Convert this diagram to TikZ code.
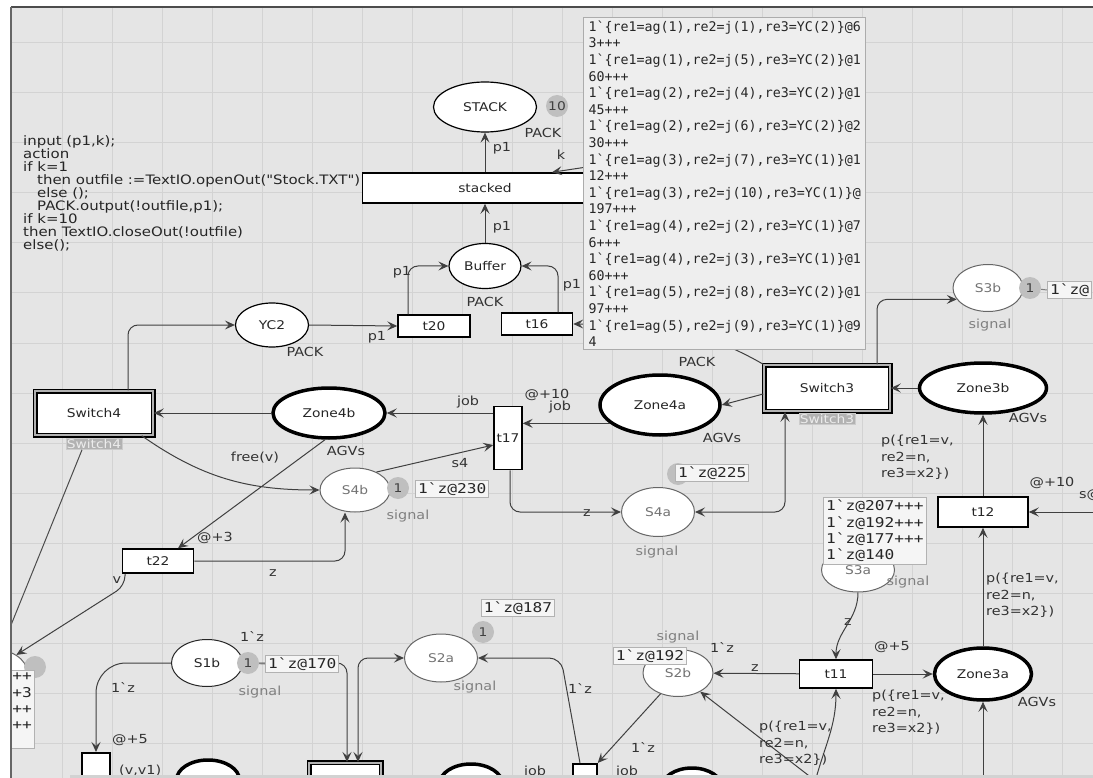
\documentclass[tikz,border=0pt]{standalone}
\usepackage{fontspec}
\setmainfont{DejaVu Sans}
\newfontfamily\cpnsans[FakeStretch=1.15]{DejaVu Sans}
\newfontfamily\cpnmono{DejaVu Sans Mono}
\newfontfamily\cpnmonow[FakeStretch=1.2]{DejaVu Sans Mono}
\usetikzlibrary{shapes.geometric,arrows.meta,positioning}
\definecolor{canvas}{RGB}{229,229,229}
\definecolor{gridline}{RGB}{211,211,211}
\newcommand\bq{\char"60\relax}
\newcommand\cpnname{\cpnsans\fontsize{12}{13}\selectfont}
\newcommand\cpnlab{\cpnsans\fontsize{12.5}{16.5}\selectfont}
\newcommand\cpncode{\cpnsans\fontsize{13}{13}\selectfont}
\newcommand\cpnmk{\cpnmonow\fontsize{13.5}{16.3}\selectfont}
\newcommand\cpntip{\cpnmono\fontsize{13.3}{16.6}\selectfont}
\newcommand\tk[4]{1\bq\{re1=ag(#1),re2=j(#2),re3=YC(#3)\}@#4}
\tikzset{
  place/.style={draw, ellipse, fill=white, line width=1.2pt, inner sep=0pt, font=\cpnname, text=black!85},
  zone/.style={place, line width=3.5pt},
  sig/.style={place, draw=black!60, line width=1pt, text=black!55, minimum width=71pt, minimum height=46pt},
  trans/.style={draw, rectangle, fill=white, line width=1.5pt, inner sep=1pt, font=\cpnname, text=black!85},
  subst/.style={trans, double=gray!60, double distance=2pt},
  tok/.style={circle, fill=gray!50, minimum size=22pt, inner sep=0pt, font=\cpnname, text=black!75},
  mkbox/.style={draw=gray!60, fill=gray!8, line width=1pt, inner sep=2.5pt, font=\cpnmk, text=black!85},
  tag/.style={fill=gray!60, draw=gray!40, inner sep=1pt, font=\cpnname, text=gray!15},
  lab/.style={font=\cpnlab, text=black!80, inner sep=1pt},
  siglab/.style={lab, text=black!50},
  arc/.style={draw=black!75, line width=1pt, rounded corners=10pt, -{Stealth[length=10pt,width=9pt,inset=4pt]}},
  arcs/.style={arc, {Stealth[length=10pt,width=9pt,inset=4pt]}-{Stealth[length=10pt,width=9pt,inset=4pt]}},
  link/.style={draw=black!70, line width=1pt}
}
\begin{document}
\begin{tikzpicture}[x=1pt, y=-1pt]
\clip (0,0) rectangle (1093,778);
\fill[white] (0,0) rectangle (1093,778);
\fill[canvas] (12,7) rectangle (1093,778);
\foreach \x in {62,112,...,1062} \draw[gridline, line width=1pt] (\x,7) -- (\x,778);
\foreach \y in {43,93,...,743} \draw[gridline, line width=1pt] (12,\y) -- (1093,\y);

\node[font=\cpncode, text=black!85, align=left, anchor=north west, inner sep=0pt] (code) at (23,135)
  {input (p1,k);\\action\\if k=1\\\hspace*{14pt}then outfile :=TextIO.openOut("Stock.TXT")\\\hspace*{14pt}else ();\\\hspace*{14pt}PACK.output(!outfile,p1);\\if k=10\\then TextIO.closeOut(!outfile)\\else();};

\node[place, minimum width=103pt, minimum height=50pt] (stack) at (485,107) {STACK};
\node[tok] (stacktok) at (557,106) {10};
\node[lab] at (543,133) {PACK};
\node[trans, minimum width=245pt, minimum height=30pt] (stacked) at (485,188) {stacked};
\node[place, minimum width=72pt, minimum height=45pt] (buffer) at (485,266) {Buffer};
\node[lab] at (485,302) {PACK};
\node[trans, minimum width=72pt, minimum height=22pt] (t20) at (434,326) {t20};
\node[trans, minimum width=71pt, minimum height=22pt] (t16) at (537,324) {t16};
\node[place, minimum width=73pt, minimum height=44pt] (yc2) at (272,325) {YC2};
\node[lab] at (305,352) {PACK};

\node[subst, minimum width=118pt, minimum height=44pt] (switch4) at (94,413) {Switch4};
\node[tag] (switch4tag) at (94,444) {Switch4};
\node[zone, minimum width=112pt, minimum height=50pt] (zone4b) at (329,413) {Zone4b};
\node[lab] at (346,451) {AGVs};
\node[trans, minimum width=28pt, minimum height=63pt] (t17) at (508,438) {t17};
\node[zone, minimum width=120pt, minimum height=60pt] (zone4a) at (660,405) {Zone4a};
\node[lab] at (722,438) {AGVs};
\node[sig, minimum width=70pt, minimum height=44pt] (s4b) at (355,490) {S4b};
\node[siglab] at (408,516) {signal};
\node[trans, minimum width=71pt, minimum height=24pt] (t22) at (158,561) {t22};
\node[sig, minimum width=73pt, minimum height=49pt] (s4a) at (658,512) {S4a};
\node[siglab] at (657,552) {signal};

\node[subst, minimum width=126pt, minimum height=46pt] (switch3) at (827,388) {Switch3};
\node[tag] (switch3tag) at (827,419) {Switch3};
\node[zone, minimum width=127pt, minimum height=50pt] (zone3b) at (983,388) {Zone3b};
\node[lab] at (1028,418) {AGVs};
\node[sig, minimum width=70pt, minimum height=47pt] (s3b) at (988,288) {S3b};
\node[siglab] at (990,325) {signal};
\node[trans, minimum width=90pt, minimum height=30pt] (t12) at (983,512) {t12};
\node[sig, minimum width=73pt, minimum height=44pt] (s3a) at (858,570) {S3a};
\node[siglab] at (908,582) {signal};
\node[trans, minimum width=73pt, minimum height=28pt] (t11) at (836,674) {t11};
\node[zone, minimum width=97pt, minimum height=52pt] (zone3a) at (983,674) {Zone3a};
\node[lab] at (1037,702) {AGVs};

\node[sig, minimum width=70pt, minimum height=47pt] (s2b) at (678,673) {S2b};
\node[siglab] at (678,637) {signal};
\node[sig, minimum width=73pt, minimum height=48pt] (s2a) at (441,658) {S2a};
\node[siglab] at (475,687) {signal};
\node[sig, draw=black!85, text=black!85, minimum width=71pt, minimum height=47pt] (s1b) at (207,663) {S1b};
\node[siglab] at (260,692) {signal};
\node[sig, minimum width=70pt, minimum height=46pt] (s1a) at (-8,672) {};

\node[trans, minimum width=28pt, minimum height=40pt, anchor=north] (t10) at (96,752) {};
\node[subst, minimum width=72pt, minimum height=40pt, anchor=north] (switch2) at (345,762) {};
\node[trans, minimum width=24pt, minimum height=30pt, anchor=north] (t15) at (585,763) {};
\node[zone, minimum width=63pt, minimum height=40pt] (zone1b) at (208,780) {};
\node[zone, minimum width=63pt, minimum height=40pt] (zone2a) at (471,784) {};
\node[zone, minimum width=61pt, minimum height=40pt] (zone2b) at (692,788) {};

\coordinate (kfrom) at (700,150);
\coordinate (t12in) at (1100,512);
\coordinate (t11in) at (815,782);
\coordinate (s2bin) at (817,782);
\coordinate (zone3ain) at (983,782);

\draw[arc] (stacked.north) -- (stack.south);
\draw[arc] (buffer.north) -- (stacked.south);
\draw[arc] ([xshift=-26pt]t20.north) |- (buffer.west);
\draw[arc] ([xshift=21pt]t16.north) |- (buffer.east);
\draw[arc] (yc2.east) -- (t20.west);
\draw[arc] ([xshift=34pt]switch4.north) |- (yc2.west);
\draw[arc] (zone4b) -- (switch4);
\draw[arc] (t17.west |- zone4b.east) -- (zone4b.east);
\draw[arc] (zone4a.200) -- (t17.east |- zone4a.200);
\draw[arc] (s4b.40) -- ([yshift=-7pt]t17.west);
\draw[arc] ([xshift=2pt]t17.south) |- (s4a.west);
\draw[arc] ([xshift=-12pt]switch4.south east) to[out=-35,in=180] (s4b.west);
\draw[arc] ([xshift=-4pt]zone4b.south) -- ([xshift=20pt]t22.north);
\draw[arc] (t22.east) -| ([xshift=-10pt]s4b.south);
\draw[arc] ([xshift=-33pt]t22.south) -- ++(0,12) -- (s1a.35);
\draw[link] ([xshift=-12pt]switch4tag.south) -- (s1a);
\draw[arc] (kfrom) -- ([xshift=67pt]stacked.north);
\draw[arc] (switch3.north west) to[out=150,in=0] (t16.east);
\draw[arc] (zone3b) -- (switch3);
\draw[arc] ([yshift=-6pt]switch3.west) -- (zone4a.east);
\draw[arc] ([xshift=50pt]switch3.north) |- (s3b.200);
\draw[arcs] (s4a.east) -| ([xshift=-42pt]switch3.south);
\draw[arc] (t12.north) -- (zone3b.south);
\draw[arc] (zone3a.north) -- (t12.south);
\draw[arc] (t12in) -- (t12.east);
\draw[arc] (s3a.south) to[out=-90,in=90] (t11.north);
\draw[arc] (t11) -- (zone3a);
\draw[arc] (t11) -- (s2b);
\draw[arc] (t11in) to[out=75,in=-90] (t11.south);
\draw[arc] (zone3ain) -- (zone3a.south);
\draw[arc] (s2bin) -- (s2b.-40);
\draw[arc] (s2b.-130) -- (t15.north east);
\draw[arc, rounded corners=12pt] ([xshift=-5pt]t15.north) -- (561,658) -- (s2a.east);
\draw[arcs] ([xshift=13pt]switch2.north) |- (s2a.west);
\draw[arc] (s1b.east) -| ([xshift=2pt]switch2.north);
\draw[arc, rounded corners=30pt] (s1b.west) -| (t10.north);

\node[lab] at (502,148) {p1};
\node[lab] at (561,155) {k};
\node[lab] at (502,227) {p1};
\node[lab] at (402,272) {p1};
\node[lab] at (572,285) {p1};
\node[lab] at (377,337) {p1};
\node[lab] at (468,402) {job};
\node[lab] at (547,395) {@+10};
\node[lab] at (560,407) {job};
\node[lab] at (460,463) {s4};
\node[lab] at (587,513) {z};
\node[lab] at (255,458) {free(v)};
\node[lab] at (215,538) {@+3};
\node[lab] at (273,573) {z};
\node[lab] at (117,580) {v};
\node[lab] at (1052,483) {@+10};
\node[lab, anchor=west] at (1078,495) {s@};
\node[lab, align=left, anchor=north west] at (880,434) {p(\{re1=v,\\re2=n,\\re3=x2\})};
\node[lab, align=left, anchor=north west] at (985,572) {p(\{re1=v,\\re2=n,\\re3=x2\})};
\node[lab, align=left, anchor=north west] at (871,689) {p(\{re1=v,\\re2=n,\\re3=x2\})};
\node[lab, align=left, anchor=north west] at (758,720) {p(\{re1=v,\\re2=n,\\re3=x2\})};
\node[lab] at (848,622) {z};
\node[lab] at (892,647) {@+5};
\node[lab] at (755,668) {z};
\node[lab] at (722,647) {1\bq z};
\node[lab] at (643,747) {1\bq z};
\node[lab] at (580,688) {1\bq z};
\node[lab] at (252,636) {1\bq z};
\node[lab] at (123,687) {1\bq z};
\node[lab] at (130,740) {@+5};
\node[lab, anchor=west] at (118,771) {(v,v1)};
\node[lab] at (535,772) {job};
\node[lab] at (627,772) {job};

\node[tok] (s4btok) at (398,488) {1};
\node[mkbox, anchor=west] (s4bmark) at (415,489) {1\bq z@230};
\node[tok] (s4atok) at (678,474) {};
\node[mkbox, anchor=west] (s4amark) at (675,473) {1\bq z@225};
\node[tok] (s3btok) at (1030,288) {1};
\draw[link, gray] (s3btok) -- (1047,290);
\node[mkbox, anchor=west] (s3bmark) at (1047,290) {1\bq z@};
\node[mkbox, anchor=north west, align=left] (s3amark) at (823,497) {1\bq z@207+++\\1\bq z@192+++\\1\bq z@177+++\\1\bq z@140};
\node[mkbox] (s2bmark) at (650,656) {1\bq z@192};
\node[tok] (s2atok) at (483,632) {1};
\node[mkbox] (s2amark) at (518,608) {1\bq z@187};
\node[tok] (s1btok) at (248,663) {1};
\draw[link, gray] (s1btok) -- (265,664);
\node[mkbox, anchor=west] (s1bmark) at (265,664) {1\bq z@170};
\node[tok] (s1atok) at (35,667) {};
\node[mkbox, anchor=north east, align=right] (s1amark) at (35,670) {++\\@+3\\++\\++\\};

\node[lab] at (697,362) {PACK};
\node[fill=gray!13, draw=gray!65, line width=1.2pt, align=left, anchor=north west, inner xsep=5pt, inner ysep=3pt, font=\cpntip, text=black!85] (stackmarks) at (583,17)
  {\tk{1}{1}{2}{6}\\3+++\\\tk{1}{5}{2}{1}\\60+++\\\tk{2}{4}{2}{1}\\45+++\\\tk{2}{6}{2}{2}\\30+++\\\tk{3}{7}{1}{1}\\12+++\\\tk{3}{10}{1}{}\\197+++\\\tk{4}{2}{1}{7}\\6+++\\\tk{4}{3}{1}{1}\\60+++\\\tk{5}{8}{2}{1}\\97+++\\\tk{5}{9}{1}{9}\\4};

\fill[white] (0,7) rectangle (10,778);
\draw[black!70, line width=1.5pt] (11,7) -- (1093,7);
\draw[black!60, line width=2pt] (11,7) -- (11,778);
\fill[gray!35] (70,775) rectangle (1093,778);
\end{tikzpicture}
\end{document}
